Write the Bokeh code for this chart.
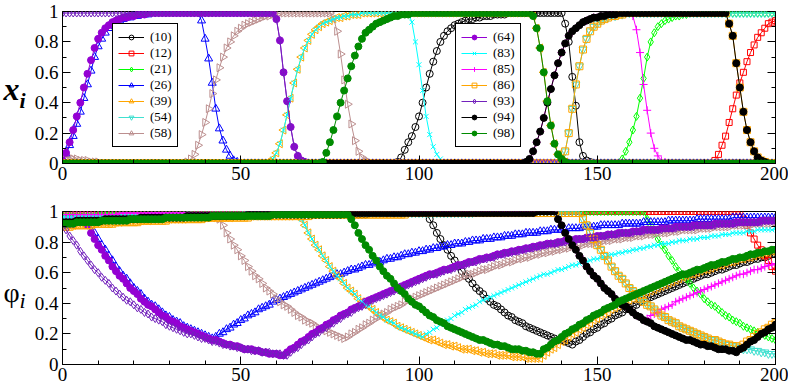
import math
from bokeh.plotting import figure
from bokeh.models import Range1d, FixedTicker, LinearAxis, Legend, LegendItem, CustomJSTickFormatter
from bokeh.layouts import column, row
from bokeh.core.properties import value
from bokeh.embed import file_html
from bokeh.resources import INLINE

# ---------------- data ----------------
t = list(range(201))
x_ticks = [0, 50, 100, 150, 200]
x_minor = [v for v in range(0, 201, 10)]
y_ticks = [0, 0.2, 0.4, 0.6, 0.8, 1.0]
y_minor = [0.1, 0.3, 0.5, 0.7, 0.9]
labels = ["(10)", "(12)", "(21)", "(26)", "(39)", "(54)", "(58)",
          "(64)", "(83)", "(85)", "(86)", "(93)", "(94)", "(98)"]

# top panel: x_i
x10 = [0.0]*94 + [0.01,0.04,0.09,0.14,0.18,0.24,0.31,0.40,0.50,0.59,0.67,0.74,0.80,0.84,0.87,0.89,0.91,0.92,0.93,0.94,0.95,0.95,0.96,0.96,0.97,0.97,0.97,0.98,0.98,0.98,0.98] + [0.99]*16 + [0.92,0.80,0.57,0.38,0.14,0.05,0.02,0.01] + [0.0]*52
x12 = [0.0]*183 + [0.02,0.06,0.12,0.18,0.27,0.36,0.45,0.53,0.60,0.67,0.73,0.78,0.83,0.86,0.89,0.92,0.93,0.94]
x21 = [0.0]*157 + [0.03,0.08,0.14,0.22,0.31,0.43,0.56,0.70,0.80,0.86,0.90,0.92,0.94,0.95,0.96,0.97,0.97,0.98,0.98] + [0.99]*25
x26 = [0.02,0.06,0.12,0.18,0.26,0.34,0.43,0.52,0.61,0.70,0.77,0.82,0.86,0.89,0.91,0.93,0.94,0.95,0.96,0.96,0.97,0.97,0.98,0.98,0.98] + [0.99]*14 + [0.94,0.82,0.69,0.53,0.36,0.23,0.15,0.09,0.05,0.02,0.01] + [0.0]*151
x39 = [0.0]*58 + [0.01,0.03,0.07,0.13,0.22,0.32,0.43,0.53,0.62,0.70,0.76,0.81,0.85,0.88,0.90,0.92,0.93,0.94,0.95,0.96,0.96,0.97,0.97,0.98,0.98,0.98] + [0.99]*48 + [0.97,0.89,0.76,0.60,0.41,0.25,0.13,0.06,0.03,0.01] + [0.0]*59
x54 = [0.0]*140 + [0.02,0.08,0.20,0.36,0.52,0.64,0.75,0.82,0.87,0.90,0.92,0.94,0.95,0.96,0.97,0.97,0.98,0.98] + [0.99]*43
x58 = [0.05,0.04,0.04,0.03,0.03,0.02,0.02,0.02,0.01,0.01,0.01] + [0.0]*24 + [0.01,0.03,0.06,0.12,0.19,0.27,0.36,0.46,0.55,0.63,0.70,0.76,0.80,0.84,0.87,0.89,0.91,0.92,0.93,0.94,0.95,0.96,0.97,0.97,0.98,0.98] + [0.99]*15 + [0.96,0.87,0.72,0.55,0.39,0.26,0.15,0.08,0.04,0.02,0.01] + [0.0]*114
x64 = [0.02,0.07,0.14,0.22,0.31,0.40,0.50,0.59,0.68,0.76,0.82,0.86,0.89,0.91,0.93,0.94,0.95,0.96,0.96,0.97,0.97,0.98,0.98,0.98,0.99] + [0.99]*35 + [0.95,0.81,0.60,0.41,0.24,0.11,0.05,0.02,0.01] + [0.0]*132
x83 = [0.0]*58 + [0.01,0.03,0.07,0.13,0.22,0.32,0.43,0.53,0.62,0.70,0.76,0.81,0.85,0.88,0.90,0.92,0.93,0.94,0.95,0.96,0.96,0.97,0.97,0.98,0.98,0.98] + [0.99]*14 + [0.93,0.80,0.65,0.48,0.31,0.19,0.11,0.06,0.03,0.01] + [0.0]*93
x85 = [0.0]*130 + [0.01,0.03,0.08,0.14,0.21,0.30,0.40,0.49,0.58,0.66,0.73,0.79,0.84,0.87,0.89,0.91,0.93,0.94,0.95,0.96,0.96,0.97,0.97,0.98,0.98,0.98] + [0.99]*4 + [0.97,0.88,0.73,0.52,0.35,0.20,0.10,0.05,0.02,0.01] + [0.0]*31
x86 = [0.0]*140 + [0.02,0.08,0.20,0.36,0.52,0.64,0.75,0.82,0.87,0.90,0.92,0.94,0.95,0.96,0.97,0.97,0.98,0.98] + [0.99]*29 + [0.92,0.84,0.66,0.50,0.34,0.22,0.14,0.08,0.04,0.02,0.01] + [0.0]*3
x93 = [0.99]*60 + [0.95,0.81,0.60,0.41,0.24,0.11,0.05,0.02,0.01] + [0.0]*132
x94 = [0.0]*130 + [0.01,0.03,0.08,0.14,0.21,0.30,0.40,0.49,0.58,0.66,0.73,0.79,0.84,0.87,0.89,0.91,0.93,0.94,0.95,0.96,0.96,0.97,0.97,0.98,0.98,0.98] + [0.99]*31 + [0.92,0.84,0.66,0.50,0.34,0.22,0.14,0.08,0.04,0.02,0.01] + [0.0]*3
x98 = [0.0]*73 + [0.01,0.07,0.14,0.22,0.31,0.40,0.48,0.56,0.64,0.71,0.77,0.82,0.86,0.88,0.90,0.92,0.93,0.94,0.95,0.96,0.97,0.97,0.98,0.98,0.98] + [0.99]*34 + [0.97,0.89,0.76,0.60,0.41,0.25,0.13,0.06,0.03,0.01] + [0.0]*59

# bottom panel: phi_i
phi10 = [0.92]*4+[0.93]*7+[0.94]*8+[0.95]*10+[0.96]*13+[0.97]*17+[0.98]*27+[0.99]*17 + [0.95,0.91,0.86,0.82,0.78,0.75,0.71,0.68,0.64,0.61,0.58,0.56,0.53,0.50,0.48,0.46,0.43,0.41,0.39,0.38,0.36,0.34,0.32,0.31,0.29,0.28,0.27,0.25,0.24,0.23,0.22,0.21,0.20,0.19,0.18,0.17,0.16,0.16,0.15,0.14,0.13] + [0.15,0.16,0.18,0.20,0.21,0.23,0.24,0.26,0.27,0.29,0.30,0.32,0.33,0.34,0.36,0.37,0.38,0.39,0.41,0.42,0.43,0.44,0.45,0.46,0.47,0.48,0.49,0.50,0.51,0.52,0.53,0.54,0.55,0.56,0.57,0.58,0.59,0.59,0.60,0.61,0.62,0.62,0.63,0.64,0.65,0.65,0.66,0.67,0.67,0.68,0.69,0.69,0.70,0.70,0.71,0.72,0.72]
phi12 = [0.99]*36 + [1.0]*154 + [1.0,0.95,0.91,0.86,0.82,0.78,0.75,0.71,0.68,0.64,0.61]
phi21 = [0.97]*10+[0.98]*27+[0.99]*54+[1.0]*72 + [1.0,0.95,0.91,0.86,0.82,0.78,0.75,0.71,0.68,0.64,0.61,0.58,0.56,0.53,0.50,0.48,0.46,0.43,0.41,0.39,0.38,0.36,0.34,0.32,0.31,0.29,0.28,0.27,0.25,0.24,0.23,0.22,0.21,0.20,0.19,0.18,0.17,0.16]
phi26 = [0.93]*4+[0.94]*4 + [0.91,0.86,0.82,0.78,0.75,0.71,0.68,0.64,0.61,0.58,0.56,0.53,0.50,0.48,0.46,0.43,0.41,0.39,0.38,0.36,0.34,0.32,0.31,0.29,0.28,0.27,0.25,0.24,0.23,0.22,0.21,0.20,0.19,0.18,0.17] + [0.18,0.20,0.21,0.23,0.24,0.26,0.27,0.29,0.30,0.32,0.33,0.34,0.36,0.37,0.38,0.39,0.41,0.42,0.43,0.44,0.45,0.46,0.47,0.48,0.49,0.50,0.51,0.52,0.53,0.54,0.55,0.56,0.57,0.58,0.59,0.59,0.60,0.61,0.62,0.62,0.63,0.64,0.65,0.65,0.66,0.67,0.67,0.68,0.69,0.69] + [0.70,0.70,0.71,0.72,0.72,0.73,0.73,0.74,0.74,0.75,0.75,0.76,0.76,0.77,0.77,0.78,0.78,0.79,0.79,0.79,0.80,0.80,0.81,0.81,0.81,0.82,0.82,0.82,0.83,0.83,0.83,0.84,0.84,0.84,0.85,0.85,0.85,0.86,0.86,0.86,0.86,0.87,0.87,0.87] + [0.88]*5+[0.89]*4+[0.90]*5+[0.91]*6+[0.92]*6+[0.93]*7+[0.94]*8+[0.95]*10+[0.96]*13
phi39 = [0.91]*4+[0.92]*6+[0.93]*7+[0.94]*8+[0.95]*10+[0.96]*13+[0.97]*17+[0.98]*2 + [0.95,0.91,0.86,0.82,0.78,0.75,0.71,0.68,0.64,0.61,0.58,0.56,0.53,0.50,0.48,0.46,0.43,0.41,0.39,0.38,0.36,0.34,0.32,0.31,0.29,0.28,0.27,0.25,0.24,0.23,0.22,0.21,0.20,0.19,0.18,0.17] + [0.16,0.16,0.15,0.14,0.13,0.13,0.12,0.12,0.11,0.10,0.10,0.10,0.09,0.09,0.08,0.08,0.07,0.07,0.07,0.06,0.06] + [0.06,0.06,0.05,0.05,0.05,0.05,0.04,0.04,0.04,0.04,0.04] + [0.06,0.08,0.10,0.11,0.13,0.15,0.16] + [0.18,0.20,0.21,0.23,0.24,0.26,0.27,0.29,0.30,0.32,0.33,0.34,0.36,0.37,0.38,0.39,0.41,0.42,0.43,0.44,0.45,0.46,0.47,0.48,0.49,0.50,0.51,0.52,0.53,0.54,0.55,0.56,0.57,0.58,0.59,0.59,0.60,0.61,0.62,0.62,0.63,0.64,0.65,0.65,0.66,0.67,0.67,0.68,0.69,0.69] + [0.70,0.70,0.71,0.72,0.72,0.73,0.73,0.74,0.74]
phi54 = [0.95]*5+[0.96]*13+[0.97]*17+[0.98]*27+[0.99]*54+[1.0]*29 + [1.0,0.95,0.91,0.86,0.82,0.78,0.75,0.71,0.68,0.64,0.61,0.58,0.56,0.53,0.50,0.48,0.46,0.43,0.41,0.39,0.38,0.36,0.34,0.32,0.31,0.29,0.28,0.27,0.25,0.24,0.23,0.22,0.21,0.20,0.19,0.18,0.17] + [0.16,0.16,0.15,0.14,0.13,0.13,0.12,0.12,0.11,0.10,0.10,0.10,0.09,0.09,0.08,0.08,0.07,0.07,0.07]
phi58 = [0.94]*4+[0.95]*10+[0.96]*13+[0.97]*17 + [0.95,0.91,0.86,0.82,0.78,0.75,0.71,0.68,0.64,0.61,0.58,0.56,0.53,0.50,0.48,0.46,0.43,0.41,0.39,0.38,0.36,0.34,0.32,0.31,0.29,0.28,0.27,0.25,0.24,0.23,0.22,0.21,0.20,0.19,0.18,0.17] + [0.18,0.20,0.21,0.23,0.24,0.26,0.27,0.29,0.30,0.32,0.33,0.34,0.36,0.37,0.38,0.39,0.41,0.42,0.43,0.44,0.45,0.46,0.47,0.48,0.49,0.50,0.51,0.52,0.53,0.54,0.55,0.56,0.57,0.58,0.59,0.59,0.60,0.61,0.62,0.62,0.63,0.64,0.65,0.65,0.66,0.67,0.67,0.68,0.69,0.69] + [0.70,0.70,0.71,0.72,0.72,0.73,0.73,0.74,0.74,0.75,0.75,0.76,0.76,0.77,0.77,0.78,0.78,0.79,0.79,0.79,0.80,0.80,0.81,0.81,0.81,0.82,0.82,0.82,0.83,0.83,0.83,0.84,0.84,0.84,0.85,0.85,0.85,0.86,0.86,0.86,0.86,0.87,0.87,0.87] + [0.88]*5+[0.89]*4+[0.90]*5+[0.91]*6+[0.92]*6+[0.93]
phi64 = [0.92]*4+[0.93]*3 + [0.91,0.86,0.82,0.78,0.75,0.71,0.68,0.64,0.61,0.58,0.56,0.53,0.50,0.48,0.46,0.43,0.41,0.39,0.38,0.36,0.34,0.32,0.31,0.29,0.28,0.27,0.25,0.24,0.23,0.22,0.21,0.20,0.19,0.18,0.17] + [0.16,0.16,0.15,0.14,0.13,0.13,0.12,0.12,0.11,0.10,0.10,0.10,0.09,0.09,0.08,0.08,0.07,0.07,0.07,0.06,0.06] + [0.08,0.10,0.11,0.13,0.15,0.16] + [0.18,0.20,0.21,0.23,0.24,0.26,0.27,0.29,0.30,0.32,0.33,0.34,0.36,0.37,0.38,0.39,0.41,0.42,0.43,0.44,0.45,0.46,0.47,0.48,0.49,0.50,0.51,0.52,0.53,0.54,0.55,0.56,0.57,0.58,0.59,0.59,0.60,0.61,0.62,0.62,0.63,0.64,0.65,0.65,0.66,0.67,0.67,0.68,0.69,0.69] + [0.70,0.70,0.71,0.72,0.72,0.73,0.73,0.74,0.74,0.75,0.75,0.76,0.76,0.77,0.77,0.78,0.78,0.79,0.79,0.79,0.80,0.80,0.81,0.81,0.81,0.82,0.82,0.82,0.83,0.83,0.83,0.84,0.84,0.84,0.85,0.85,0.85,0.86,0.86,0.86,0.86,0.87,0.87,0.87] + [0.88]*5+[0.89]*4+[0.90]*5+[0.91]*6+[0.92]*6+[0.93]*7+[0.94]*5
phi83 = [0.96]*7+[0.97]*17+[0.98]*27+[0.99]*16 + [0.95,0.91,0.86,0.82,0.78,0.75,0.71,0.68,0.64,0.61,0.58,0.56,0.53,0.50,0.48,0.46,0.43,0.41,0.39,0.38,0.36,0.34,0.32,0.31,0.29,0.28,0.27,0.25,0.24,0.23,0.22,0.21,0.20,0.19,0.18] + [0.20,0.21,0.23,0.24,0.26,0.27,0.29,0.30,0.32,0.33,0.34,0.36,0.37,0.38,0.39,0.41,0.42,0.43,0.44,0.45,0.46,0.47,0.48,0.49,0.50,0.51,0.52,0.53,0.54,0.55,0.56,0.57,0.58,0.59,0.59,0.60,0.61,0.62,0.62,0.63,0.64,0.65,0.65,0.66,0.67,0.67,0.68,0.69,0.69] + [0.70,0.70,0.71,0.72,0.72,0.73,0.73,0.74,0.74,0.75,0.75,0.76,0.76,0.77,0.77,0.78,0.78,0.79,0.79,0.79,0.80,0.80,0.81,0.81,0.81,0.82,0.82,0.82,0.83,0.83,0.83,0.84,0.84,0.84,0.85,0.85,0.85,0.86,0.86,0.86,0.86,0.87,0.87,0.87] + [0.88]*5+[0.89]
phi85 = [0.98]*16+[0.99]*54+[1.0]*68 + [1.0,0.95,0.91,0.86,0.82,0.78,0.75,0.71,0.68,0.64,0.61,0.58,0.56,0.53,0.50,0.48,0.46,0.43,0.41,0.39,0.38,0.36,0.34,0.32,0.31,0.29] + [0.30,0.32,0.33,0.34,0.36,0.37,0.38,0.39,0.41,0.42,0.43,0.44,0.45,0.46,0.47,0.48,0.49,0.50,0.51,0.52,0.53,0.54,0.55,0.56,0.57,0.58,0.59,0.59,0.60,0.61,0.62,0.62,0.63,0.64,0.65,0.65,0.66]
phi86 = [0.90]*3+[0.91]*6+[0.92]*6+[0.93]*7+[0.94]*8+[0.95]*10+[0.96]*13+[0.97]*17+[0.98]*27+[0.99]*49 + [0.95,0.91,0.86,0.82,0.78,0.75,0.71,0.68,0.64,0.61,0.58,0.56,0.53,0.50,0.48,0.46,0.43,0.41,0.39,0.38,0.36,0.34,0.32,0.31,0.29,0.28,0.27,0.25,0.24,0.23,0.22,0.21,0.20,0.19,0.18,0.17] + [0.16,0.16,0.15,0.14,0.13,0.13,0.12,0.12,0.11] + [0.13,0.15,0.16,0.18,0.20,0.21,0.23,0.24,0.26,0.27]
phi93 = [0.92,0.88,0.84,0.81,0.78,0.74,0.71,0.68,0.65,0.62,0.60,0.57,0.55,0.53,0.50,0.48,0.46,0.44,0.42,0.41,0.39,0.37,0.36,0.34,0.33,0.31,0.30,0.29,0.28,0.26,0.25,0.24,0.23,0.22,0.21,0.20,0.20,0.19,0.18,0.17,0.17,0.16,0.15,0.15,0.14,0.13,0.13,0.12,0.12,0.11,0.11,0.10,0.10,0.09,0.09,0.09,0.08,0.08,0.08,0.07,0.07,0.07,0.06] + [0.06,0.08,0.10,0.11,0.13,0.15,0.16] + [0.18,0.20,0.21,0.23,0.24,0.26,0.27,0.29,0.30,0.32,0.33,0.34,0.36,0.37,0.38,0.39,0.41,0.42,0.43,0.44,0.45,0.46,0.47,0.48,0.49,0.50,0.51,0.52,0.53,0.54,0.55,0.56,0.57,0.58,0.59,0.59,0.60,0.61,0.62,0.62,0.63,0.64,0.65,0.65,0.66,0.67,0.67,0.68,0.69,0.69] + [0.70,0.70,0.71,0.72,0.72,0.73,0.73,0.74,0.74,0.75,0.75,0.76,0.76,0.77,0.77,0.78,0.78,0.79,0.79,0.79,0.80,0.80,0.81,0.81,0.81,0.82,0.82,0.82,0.83,0.83,0.83,0.84,0.84,0.84,0.85,0.85,0.85,0.86,0.86,0.86,0.86,0.87,0.87,0.87] + [0.88]*5+[0.89]*4+[0.90]*5+[0.91]*6+[0.92]*6+[0.93]*7+[0.94]*4
phi94 = [0.93]*4+[0.94]*8+[0.95]*10+[0.96]*13+[0.97]*17+[0.98]*27+[0.99]*54+[1.0]*5 + [1.0,0.95,0.91,0.86,0.82,0.78,0.75,0.71,0.68,0.64,0.61,0.58,0.56,0.53,0.50,0.48,0.46,0.43,0.41,0.39,0.38,0.36,0.34,0.32,0.31,0.29,0.28,0.27,0.25,0.24,0.23,0.22,0.21,0.20,0.19,0.18,0.17] + [0.16,0.16,0.15,0.14,0.13,0.13,0.12,0.12,0.11,0.10,0.10,0.10,0.09,0.09,0.08] + [0.10,0.11,0.13,0.15,0.16,0.18,0.20,0.21,0.23,0.24,0.26]
phi98 = [0.92]*4+[0.93]*7+[0.94]*8+[0.95]*10+[0.96]*13+[0.97]*17+[0.98]*22 + [0.95,0.91,0.86,0.82,0.78,0.75,0.71,0.68,0.64,0.61,0.58,0.56,0.53,0.50,0.48,0.46,0.43,0.41,0.39,0.38,0.36,0.34,0.32,0.31,0.29,0.28,0.27,0.25,0.24,0.23,0.22,0.21,0.20,0.19,0.18,0.17] + [0.16,0.16,0.15,0.14,0.13,0.13,0.12,0.12,0.11,0.10,0.10,0.10,0.09,0.09,0.08,0.08,0.07,0.07] + [0.10,0.11,0.13,0.15,0.16] + [0.18,0.20,0.21,0.23,0.24,0.26,0.27,0.29,0.30,0.32,0.33,0.34,0.36,0.37,0.38,0.39,0.41,0.42,0.43,0.44,0.45,0.46,0.47,0.48,0.49,0.50,0.51,0.52,0.53,0.54,0.55,0.56,0.57,0.58,0.59,0.59,0.60,0.61,0.62,0.62,0.63,0.64,0.65,0.65,0.66,0.67,0.67,0.68,0.69,0.69] + [0.70,0.70,0.71,0.72,0.72,0.73,0.73,0.74,0.74,0.75,0.75]

x_series = [x10, x12, x21, x26, x39, x54, x58, x64, x83, x85, x86, x93, x94, x98]
phi_series = [phi10, phi12, phi21, phi26, phi39, phi54, phi58, phi64, phi83, phi85, phi86, phi93, phi94, phi98]
for lab, a, b in zip(labels, x_series, phi_series):
    assert len(a) == 201 and len(b) == 201, (lab, len(a), len(b))

# ---------------- styles ----------------
SERIF = "Liberation Serif"
styles = {
    "(10)": dict(color="#000000", marker="circle", angle=0, fill=False, size=7),
    "(12)": dict(color="#FF0000", marker="square", angle=0, fill=False, size=6),
    "(21)": dict(color="#00FF00", marker="diamond", angle=0, fill=False, size=8),
    "(26)": dict(color="#0000FF", marker="triangle", angle=0, fill=False, size=8),
    "(39)": dict(color="#FFA500", marker="triangle", angle=math.pi/2, fill=False, size=8),
    "(54)": dict(color="#40E0D0", marker="inverted_triangle", angle=0, fill=False, size=8),
    "(58)": dict(color="#BC8F8F", marker="triangle", angle=-math.pi/2, fill=False, size=8),
    "(64)": dict(color="#9400D3", marker="circle", angle=0, fill=True, size=7),
    "(83)": dict(color="#00FFFF", marker="x", angle=0, fill=False, size=7),
    "(85)": dict(color="#FF00FF", marker="cross", angle=0, fill=False, size=8),
    "(86)": dict(color="#FFA500", marker="square", angle=0, fill=False, size=7),
    "(93)": dict(color="#7221BC", marker="diamond", angle=0, fill=False, size=8),
    "(94)": dict(color="#000000", marker="circle", angle=0, fill=True, size=7),
    "(98)": dict(color="#008B00", marker="circle", angle=0, fill=True, size=7),
}


def style_axis(ax, ticks, minor, overrides=None, show_labels=True):
    ax.ticker = FixedTicker(ticks=ticks, minor_ticks=minor)
    ax.major_tick_in = 8
    ax.major_tick_out = 0
    ax.minor_tick_in = 4
    ax.minor_tick_out = 0
    ax.axis_line_color = "black"
    ax.major_tick_line_color = "black"
    ax.minor_tick_line_color = "black"
    ax.major_label_text_font = SERIF
    ax.major_label_text_color = "black"
    ax.major_label_text_font_size = "19px"
    if not show_labels:
        ax.formatter = CustomJSTickFormatter(code="return ''")
        ax.major_label_standoff = 0
    if overrides:
        ax.major_label_overrides = overrides


def make_fig(frame_h, top, bottom):
    p = figure(frame_width=713, frame_height=frame_h,
               x_range=Range1d(0, 200), y_range=Range1d(0, 1),
               output_backend="svg", toolbar_location=None,
               min_border_left=32, min_border_right=13,
               min_border_top=top, min_border_bottom=bottom)
    p.xgrid.visible = False
    p.ygrid.visible = False
    p.outline_line_color = "black"
    p.outline_line_alpha = 1.0
    p.outline_line_width = 1
    p.background_fill_color = "white"
    p.border_fill_color = "white"
    style_axis(p.xaxis[0], x_ticks, x_minor)
    p.xaxis[0].major_label_standoff = 3
    style_axis(p.yaxis[0], y_ticks, y_minor, overrides={0: "0", 1: "1"})
    p.yaxis[0].major_label_standoff = 4
    rax = LinearAxis()
    style_axis(rax, y_ticks, y_minor, show_labels=False)
    p.add_layout(rax, "right")
    return p


def draw(p, series):
    rends = {}
    for lab, ys in zip(labels, series):
        st = styles[lab]
        lr = p.line(t, ys, line_color=st["color"], line_width=1)
        sr = p.scatter(t, ys, marker=st["marker"], angle=st["angle"], size=st["size"],
                       line_color=st["color"], line_width=1,
                       fill_color=st["color"], fill_alpha=1.0 if st["fill"] else 0.0)
        rends[lab] = [lr, sr]
    return rends


p1 = make_fig(152, 11, 34)
r1 = draw(p1, x_series)
p2 = make_fig(153, 14, 25)
draw(p2, phi_series)


def make_legend(labs, loc):
    leg = Legend(items=[LegendItem(label=l, renderers=r1[l]) for l in labs], location=loc)
    leg.border_line_color = "black"
    leg.border_line_width = 1
    leg.border_line_alpha = 1.0
    leg.background_fill_color = "white"
    leg.background_fill_alpha = 1.0
    leg.label_text_font = SERIF
    leg.label_text_font_size = "13px"
    leg.label_text_color = "black"
    leg.glyph_width = 26
    leg.glyph_height = 12
    leg.label_height = 12
    leg.label_standoff = 6
    leg.spacing = 0
    leg.padding = 5
    leg.margin = 0
    return leg


p1.add_layout(make_legend(labels[:7], (50, 16)))
p1.add_layout(make_legend(labels[7:], (393, 16)))


# axis titles, drawn in narrow side panels (coordinates in pixels of the panel)
def title_fig(h):
    f = figure(frame_width=30, frame_height=h, x_range=Range1d(0, 30), y_range=Range1d(0, h),
               output_backend="svg", toolbar_location=None,
               min_border_left=0, min_border_right=0, min_border_top=0, min_border_bottom=0,
               x_axis_location=None, y_axis_location=None)
    f.xgrid.visible = False
    f.ygrid.visible = False
    f.outline_line_color = None
    f.background_fill_color = "white"
    f.border_fill_color = "white"
    return f


t1 = title_fig(197)
t1.text(x=[3], y=[109], text=["x"], text_font=value(SERIF), text_font_style="bold italic",
        text_font_size="32px", text_baseline="alphabetic", text_align="left", text_color="black")
t1.text(x=[19], y=[97], text=["i"], text_font=value(SERIF), text_font_style="bold italic",
        text_font_size="22px", text_baseline="alphabetic", text_align="left", text_color="black")
t2 = title_fig(192)
t2.text(x=[3], y=[97], text=["φ"], text_font=value(SERIF), text_font_style="normal",
        text_font_size="28px", text_baseline="alphabetic", text_align="left", text_color="black")
t2.text(x=[19], y=[89], text=["i"], text_font=value(SERIF), text_font_style="italic",
        text_font_size="22px", text_baseline="alphabetic", text_align="left", text_color="black")

layout = row(column(t1, t2, spacing=0), column(p1, p2, spacing=0), spacing=0)
open("out.html", "w").write(file_html(layout, INLINE))
